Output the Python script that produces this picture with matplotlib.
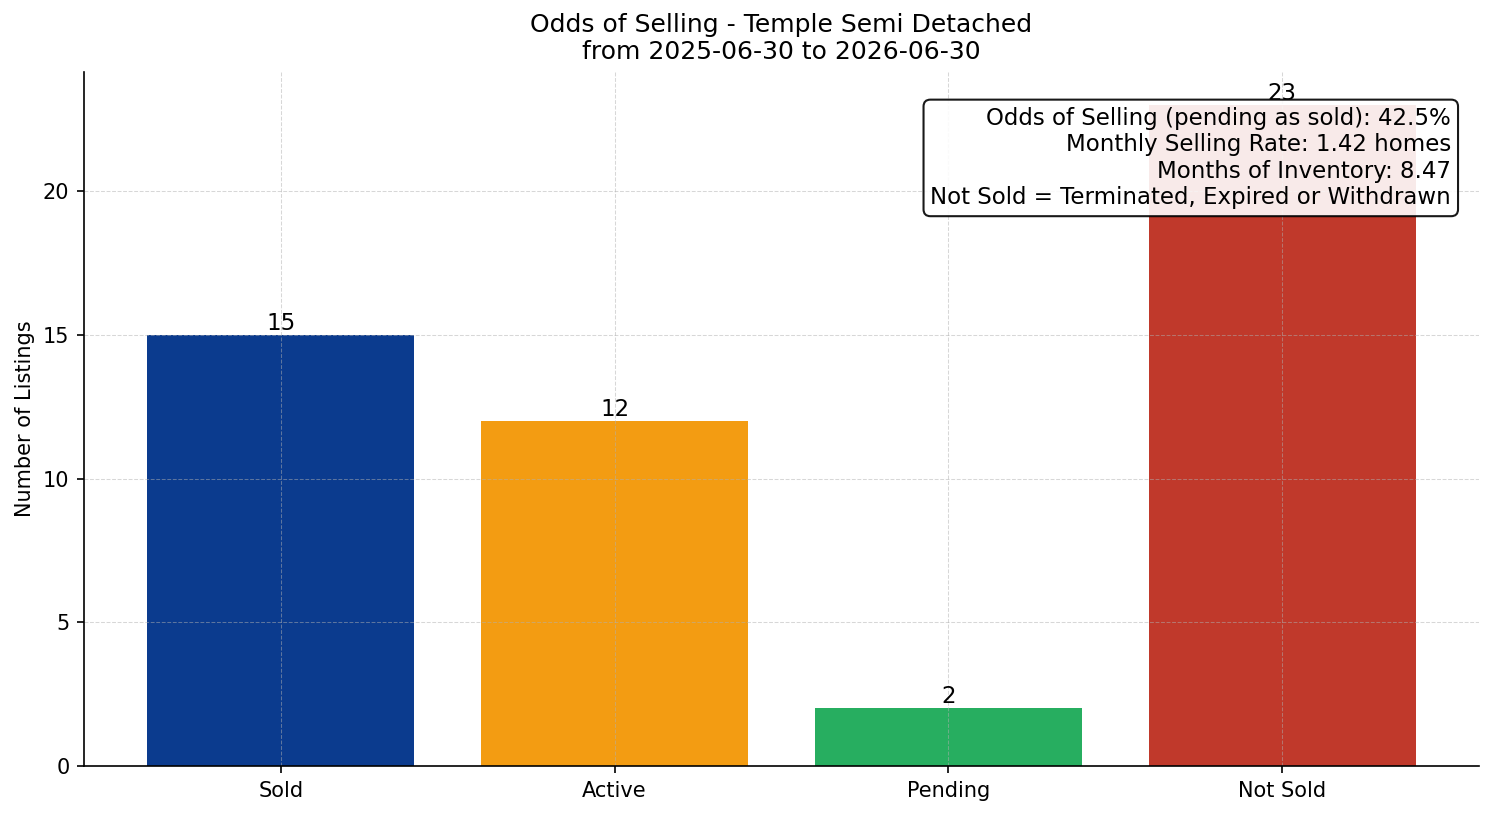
import matplotlib
matplotlib.use("Agg")
import matplotlib.pyplot as plt

# data
categories = ["Sold", "Active", "Pending", "Not Sold"]
counts = [15, 12, 2, 23]
colors = ["#0B3B8E", "#F39C12", "#27AE60", "#C0392B"]
title_area = "Temple Semi Detached"
date_from = "2025-06-30"
date_to = "2026-06-30"
odds_pct = 42.5
monthly_rate = 1.42
months_inventory = 8.47

fig, ax = plt.subplots(figsize=(9.96, 5.44), dpi=150)

bars = ax.bar(categories, counts, color=colors, width=0.8)
for b, v in zip(bars, counts):
    ax.text(b.get_x() + b.get_width() / 2, v, str(v),
            ha="center", va="bottom", fontsize=11)

ax.set_title("Odds of Selling - %s\nfrom %s to %s" % (title_area, date_from, date_to),
             fontsize=12)
ax.set_ylabel("Number of Listings", fontsize=10)
ax.set_ylim(0, max(counts) * 1.05)
ax.grid(True, linestyle="--", linewidth=0.5, alpha=0.5)
ax.spines["top"].set_visible(False)
ax.spines["right"].set_visible(False)

info = ("Odds of Selling (pending as sold): %.1f%%\n"
        "Monthly Selling Rate: %.2f homes\n"
        "Months of Inventory: %.2f\n"
        "Not Sold = Terminated, Expired or Withdrawn"
        % (odds_pct, monthly_rate, months_inventory))
ax.text(0.98, 0.95, info, transform=ax.transAxes, ha="right", va="top",
        fontsize=11, multialignment="right",
        bbox=dict(boxstyle="round", facecolor="white", edgecolor="black", alpha=0.9))

fig.subplots_adjust(left=0.0562, right=0.99, top=0.912, bottom=0.0613)
plt.savefig("out.png", dpi=150)
